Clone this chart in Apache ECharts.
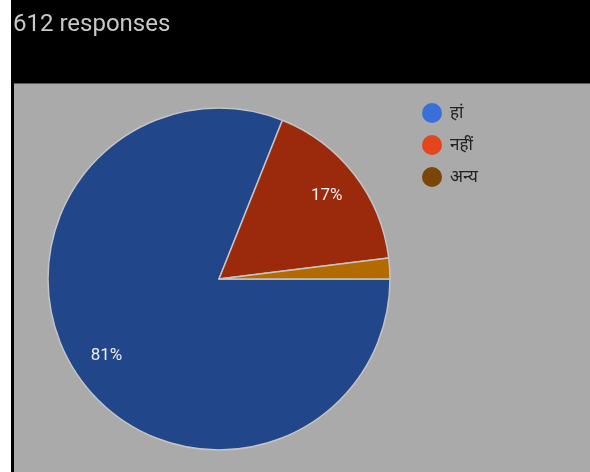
<!DOCTYPE html>
<html>
<head>
<meta charset="utf-8">
<script src="https://cdn.jsdelivr.net/npm/echarts@6/dist/echarts.min.js"></script>
<style>
html, body { margin: 0; padding: 0; background: #fff; }
#chart { width: 590px; height: 472px; }
</style>
</head>
<body>
<div id="chart"></div>
<script>
// data
var titleText = '612 responses';
var names = ['हां', 'नहीं', 'अन्य'];
var counts = [496, 104, 12];
var sliceColors = ['#22468a', '#9b2a0c', '#b36b00'];
var legendColors = ['#3a6fd8', '#e3461c', '#7a4506'];

var myChart = echarts.init(document.getElementById('chart'));

var pieData = [];
var labelData = [];
var legendData = [];
for (var i = 0; i < names.length; i++) {
	pieData.push({ name: names[i], value: counts[i], itemStyle: { color: sliceColors[i] } });
	labelData.push({ name: names[i], value: counts[i] });
	legendData.push({ name: names[i], itemStyle: { color: legendColors[i], borderWidth: 0 } });
}

var center = [219, 279];

var option = {
	animation: false,
	graphic: [
		{ type: 'rect', shape: { x: 0, y: 0, width: 11, height: 472 }, style: { fill: '#ffffff' }, z: -10 },
		{ type: 'rect', shape: { x: 11, y: 0, width: 579, height: 472 }, style: { fill: '#000000' }, z: -10 },
		{ type: 'rect', shape: { x: 14, y: 83, width: 576, height: 389 }, style: { fill: '#aaaaaa' }, z: -9 },
		{ type: 'line', shape: { x1: 14, y1: 83.5, x2: 590, y2: 83.5 }, style: { stroke: '#5a5a5a', lineWidth: 1 }, z: -8 }
	],
	title: {
		text: titleText,
		left: 8,
		top: 8,
		textStyle: { color: '#c8c8c8', fontSize: 24, fontWeight: 'normal', fontFamily: 'Roboto' }
	},
	legend: {
		orient: 'vertical',
		left: 417,
		top: 98,
		icon: 'circle',
		itemWidth: 20,
		itemHeight: 20,
		itemGap: 12,
		itemStyle: { borderWidth: 0 },
		textStyle: { color: '#222', fontSize: 17, fontFamily: 'Noto Sans', padding: [0, 0, 0, 3] },
		data: legendData
	},
	series: [{
		name: 'responses',
		type: 'pie',
		center: center,
		radius: [0, 171],
		startAngle: 0,
		clockwise: true,
		silent: true,
		itemStyle: { borderColor: '#c4c4c4', borderWidth: 1.5 },
		label: { show: false },
		labelLine: { show: false },
		data: pieData
	}, {
		// transparent ring, only for the percent labels
		name: 'labels',
		type: 'pie',
		center: center,
		radius: [95, 171],
		startAngle: 0,
		clockwise: true,
		silent: true,
		itemStyle: { color: 'rgba(0,0,0,0)', borderWidth: 0 },
		label: {
			show: true,
			position: 'inside',
			color: '#eeeeee',
			fontSize: 17,
			fontFamily: 'Roboto',
			formatter: function(p) {
				return p.percent >= 5 ? Math.round(p.percent) + '%' : '';
			}
		},
		labelLine: { show: false },
		data: labelData
	}]
};
myChart.setOption(option);
</script>
</body>
</html>
